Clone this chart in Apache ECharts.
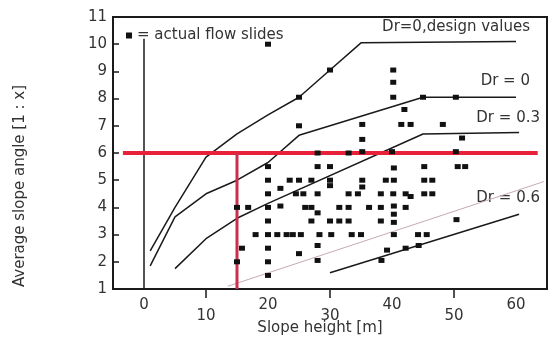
<!DOCTYPE html>
<html>
<head>
<meta charset="utf-8">
<script src="https://cdn.jsdelivr.net/npm/echarts@6/dist/echarts.min.js"></script>
<style>
    html, body {margin: 0; padding: 0; background: #fff;}
    #chart {width: 557px; height: 338px;}
</style>
</head>
<body>
<div id="chart"></div>
<script>
// flow slide observations [slope height, slope angle 1:x]
var flowSlides = [
    [15, 2.0], [15, 4.0], [15.8, 2.5], [16.8, 4.0], [18, 3.0],
    [20, 10], [20, 5.5], [20, 5.0], [20, 4.5], [20, 4.0], [20, 3.5], [20, 3.0], [20, 2.5], [20, 2.0], [20, 1.5],
    [21.5, 3.0], [22, 4.7], [22, 4.05], [23, 3.0],
    [23.5, 5.0], [25, 5.0], [24.5, 4.5], [25.7, 4.5], [24, 3.0], [25.3, 3.0], [25, 8.05], [25, 7.0], [25, 2.3],
    [26, 4.0], [27, 4.0], [27, 5.0], [27, 3.5],
    [28, 6.0], [28, 5.5], [28, 4.5], [28, 3.8], [28.3, 3.0], [28, 2.6], [28, 2.05],
    [30, 9.05], [30, 5.5], [30, 5.0], [30, 4.8], [30, 3.5], [30.2, 3.0],
    [31.5, 4.0], [31.5, 3.5], [33, 6.0], [33, 4.0], [33, 3.5], [33, 4.5], [33.5, 3.0], [34.5, 4.5], [35, 3.0],
    [35.2, 7.05], [35.2, 6.5], [35.2, 6.05], [35.2, 5.0], [35.2, 4.75],
    [36.3, 4.0], [38.2, 4.5], [38.2, 4.0], [38.2, 3.5], [38.3, 2.05], [39.2, 2.43], [39, 5.0], [40.3, 5.0],
    [40.2, 9.05], [40.2, 8.6], [40.2, 8.05], [40, 6.05], [40.3, 5.45], [40.2, 4.5], [40.3, 4.05], [40.3, 3.75], [40.3, 3.45], [40.3, 3.0],
    [42, 7.6], [41.5, 7.05], [43, 7.05], [42.2, 4.5], [42.2, 4.0], [42.2, 2.5], [43, 4.4],
    [44.3, 2.6], [44.2, 3.0], [45.6, 3.0],
    [45, 8.05], [45.2, 5.5], [45.2, 5.0], [45.2, 4.5], [46.5, 5.0], [46.5, 4.5],
    [48.2, 7.05], [50.3, 8.05], [50.3, 6.05], [50.4, 3.55], [50.6, 5.5], [51.8, 5.5], [51.3, 6.55]
];

// limit curves
var designValues = [[1, 2.4], [5, 4.0], [10, 5.85], [15, 6.7], [20, 7.4], [25, 8.05], [30, 9.05], [35, 10.05], [60, 10.1]];
var dr0 = [[1, 1.85], [5, 3.65], [10, 4.5], [15, 5.0], [20, 5.65], [25, 6.65], [45, 8.05], [60, 8.05]];
var dr03 = [[5, 1.75], [10, 2.85], [15, 3.6], [20, 4.15], [45, 6.7], [60.5, 6.75]];
var dr06Thin = [[13.5, 1.1], [64.5, 4.95]];
var dr06 = [[30, 1.6], [60.5, 3.75]];
var zeroLine = [[0, 1], [0, 10.2]];
var redLevel = [[-3.4, 6], [63.5, 6]];
var redHeight = [[15, 1], [15, 6]];

var xTicks = [0, 10, 20, 30, 40, 50, 60];
var xTickMarks = [10, 30, 50];

var font = 'DejaVu Sans, Liberation Sans, sans-serif';
var ink = '#1a1a1a';
var textInk = '#333';

var chart = echarts.init(document.getElementById('chart'));

function lineSeries(name, data, color, width) {
    return {
        name: name,
        type: 'line',
        data: data,
        showSymbol: false,
        silent: true,
        lineStyle: {color: color, width: width},
        z: 3
    };
}

function note(text, x, y, align, rotation) {
    return {
        type: 'text', x: x, y: y, rotation: rotation || 0,
        style: {text: text, fontFamily: font, fontSize: 15, fill: textInk, textAlign: align, textVerticalAlign: 'middle'}
    };
}

var option = {
    backgroundColor: '#fff',
    animation: false,
    grid: {
        left: 113, right: 10, top: 17, bottom: 49,
        show: true, borderColor: ink, borderWidth: 2
    },
    legend: {
        left: 121, top: 23,
        data: [{name: 'actual flow slides', icon: 'rect'}],
        itemWidth: 6, itemHeight: 6, itemGap: 4,
        formatter: '= {name}',
        textStyle: {fontFamily: font, fontSize: 15, color: textInk, padding: [0, 0, 0, 0]}
    },
    xAxis: {
        type: 'value',
        min: -5, max: 65,
        splitLine: {show: false},
        axisLine: {onZero: false, lineStyle: {color: ink, width: 2}},
        axisTick: {customValues: xTickMarks, length: 9, inside: false, lineStyle: {color: ink, width: 1.5}},
        axisLabel: {
            customValues: xTicks,
            margin: 11,
            fontFamily: font, fontSize: 15, color: textInk, lineHeight: 11,
            formatter: function (v) {
                return v % 20 === 0 ? String(v) : '\n' + v;
            }
        }
    },
    yAxis: {
        type: 'value',
        min: 1, max: 11, interval: 1,
        splitLine: {show: false},
        axisLine: {onZero: false, lineStyle: {color: ink, width: 2}},
        axisTick: {inside: true, length: 6, lineStyle: {color: ink, width: 1.5}},
        axisLabel: {margin: 6, fontFamily: font, fontSize: 15, color: textInk}
    },
    graphic: [
        note('Slope height [m]', 320, 328, 'center'),
        note('Average slope angle [1 : x]', 20, 186, 'center', Math.PI / 2),
        note('Dr=0,design values', 530, 27, 'right'),
        note('Dr = 0', 530, 81, 'right'),
        note('Dr = 0.3', 540, 118, 'right'),
        note('Dr = 0.6', 540, 198, 'right')
    ],
    series: [
        lineSeries('zero', zeroLine, ink, 1.5),
        lineSeries('Dr=0,design values', designValues, ink, 1.5),
        lineSeries('Dr = 0', dr0, ink, 1.5),
        lineSeries('Dr = 0.3', dr03, ink, 1.5),
        lineSeries('Dr = 0.6 thin', dr06Thin, '#c9a9ae', 1),
        lineSeries('Dr = 0.6', dr06, ink, 1.5),
        {
            name: 'actual flow slides',
            type: 'scatter',
            data: flowSlides,
            symbol: 'rect',
            symbolSize: [6, 5],
            itemStyle: {color: '#111', opacity: 1},
            z: 4
        },
        lineSeries('red level', redLevel, '#e8203a', 4),
        lineSeries('red height', redHeight, '#c8304f', 3)
    ]
};

chart.setOption(option);
</script>
</body>
</html>
